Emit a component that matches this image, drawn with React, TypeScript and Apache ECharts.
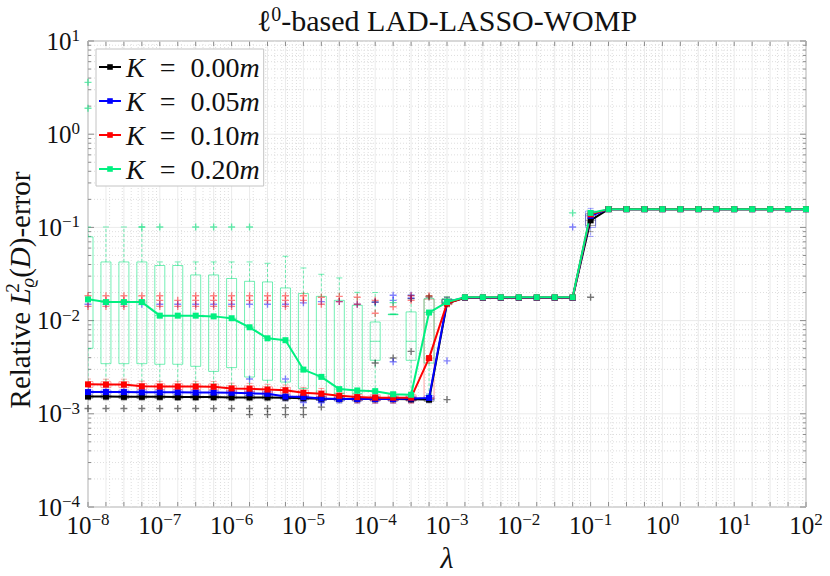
import React, { useEffect, useRef } from 'react';
import * as echarts from 'echarts';

const SERIF = 'Liberation Serif';

// lambda grid (log10 of lambda)
const LOG_LAMBDA = [
  -8, -7.75, -7.5, -7.25, -7, -6.75, -6.5, -6.25, -6, -5.75, -5.5, -5.25, -5, -4.75, -4.5, -4.25,
  -4, -3.75, -3.5, -3.25, -3, -2.75, -2.5, -2.25, -2, -1.75, -1.5, -1.25, -1, -0.75, -0.5, -0.25,
  0, 0.25, 0.5, 0.75, 1, 1.25, 1.5, 1.75, 2,
];
const LAMBDA = LOG_LAMBDA.map((e) => Math.pow(10, e));

const K_LABELS = ['0.00', '0.05', '0.10', '0.20'];
const COLORS = ['#000000', '#0000ff', '#ff0000', '#00f080'];
const BOX_COLORS = ['rgba(0,0,0,0.35)', 'rgba(0,0,255,0.35)', 'rgba(255,0,0,0.35)', 'rgba(0,225,120,0.55)'];
const OUT_COLORS = ['rgba(0,0,0,0.65)', 'rgba(0,0,255,0.6)', 'rgba(255,0,0,0.6)', 'rgba(0,225,120,0.75)'];

const ERR_K000 = [
  0.00153, 0.00153, 0.00152, 0.00152, 0.00152, 0.00151, 0.00151, 0.00151, 0.0015, 0.0015, 0.0015,
  0.00149, 0.00147, 0.00145, 0.00144, 0.00144, 0.00144, 0.00144, 0.00143, 0.00142, 0.0153,
  0.0176, 0.0176, 0.0176, 0.0176, 0.0176, 0.0176, 0.0176, 0.119,
  0.157, 0.157, 0.157, 0.157, 0.157, 0.157, 0.157, 0.157, 0.157, 0.157, 0.157, 0.157,
];
const ERR_K005 = [
  0.00171, 0.00171, 0.00171, 0.0017, 0.0017, 0.0017, 0.00169, 0.00169, 0.00168, 0.00166, 0.00164,
  0.00153, 0.00151, 0.00146, 0.00144, 0.00144, 0.00144, 0.00144, 0.00146, 0.00148, 0.0158,
  0.0176, 0.0176, 0.0176, 0.0176, 0.0176, 0.0176, 0.0176, 0.133,
  0.157, 0.157, 0.157, 0.157, 0.157, 0.157, 0.157, 0.157, 0.157, 0.157, 0.157, 0.157,
];
const ERR_K010 = [
  0.00207, 0.00206, 0.00206, 0.00197, 0.00196, 0.00196, 0.00196, 0.00195, 0.00187, 0.00186, 0.00182,
  0.00179, 0.00168, 0.00164, 0.00156, 0.00151, 0.00149, 0.00149, 0.00149, 0.00396, 0.0153,
  0.0177, 0.0177, 0.0177, 0.0177, 0.0177, 0.0177, 0.0177, 0.138,
  0.157, 0.157, 0.157, 0.157, 0.157, 0.157, 0.157, 0.157, 0.157, 0.157, 0.157, 0.157,
];
const ERR_K020 = [
  0.0169, 0.0158, 0.0158, 0.0158, 0.0113, 0.0113, 0.0113, 0.0111, 0.0106, 0.00848, 0.00646,
  0.00616, 0.00298, 0.00249, 0.00184, 0.00178, 0.00175, 0.00162, 0.0016, 0.0122, 0.0158,
  0.0178, 0.0178, 0.0178, 0.0178, 0.0178, 0.0178, 0.0178, 0.143,
  0.157, 0.157, 0.157, 0.157, 0.157, 0.157, 0.157, 0.157, 0.157, 0.157, 0.157, 0.157,
];

// box statistics: [lambda index, min, Q1, median, Q3, max]
const BOX_K000 = [
  [0, 0.00141, 0.00147, 0.00153, 0.00159, 0.00166], [1, 0.00141, 0.00147, 0.00153, 0.00159, 0.00166],
  [2, 0.0014, 0.00146, 0.00152, 0.00158, 0.00165], [3, 0.0014, 0.00146, 0.00152, 0.00158, 0.00165],
  [4, 0.0014, 0.00146, 0.00152, 0.00158, 0.00165], [5, 0.00139, 0.00145, 0.00151, 0.00157, 0.00164],
  [6, 0.00139, 0.00145, 0.00151, 0.00157, 0.00164], [7, 0.00139, 0.00145, 0.00151, 0.00157, 0.00164],
  [8, 0.00138, 0.00144, 0.0015, 0.00156, 0.00163], [9, 0.00138, 0.00144, 0.0015, 0.00156, 0.00163],
  [10, 0.00138, 0.00144, 0.0015, 0.00156, 0.00163], [11, 0.00137, 0.00143, 0.00149, 0.00155, 0.00162],
  [12, 0.00135, 0.00141, 0.00147, 0.00153, 0.0016], [13, 0.00133, 0.00139, 0.00145, 0.00151, 0.00158],
  [14, 0.00132, 0.00138, 0.00144, 0.0015, 0.00157], [15, 0.00132, 0.00138, 0.00144, 0.0015, 0.00157],
  [16, 0.00132, 0.00138, 0.00144, 0.0015, 0.00157], [17, 0.00132, 0.00138, 0.00144, 0.0015, 0.00157],
  [18, 0.00132, 0.00137, 0.00143, 0.00149, 0.00155], [19, 0.00131, 0.00136, 0.00142, 0.00148, 0.00154],
  [20, 0.0146, 0.015, 0.0153, 0.0168, 0.0176], [28, 0.09, 0.105, 0.119, 0.14, 0.15],
];
const BOX_K005 = [
  [0, 0.00154, 0.00163, 0.00171, 0.0018, 0.0019], [1, 0.00154, 0.00163, 0.00171, 0.0018, 0.0019],
  [2, 0.00154, 0.00163, 0.00171, 0.0018, 0.0019], [3, 0.00153, 0.00162, 0.0017, 0.00179, 0.00189],
  [4, 0.00153, 0.00162, 0.0017, 0.00179, 0.00189], [5, 0.00153, 0.00162, 0.0017, 0.00179, 0.00189],
  [6, 0.00152, 0.00161, 0.00169, 0.00178, 0.00188], [7, 0.00152, 0.00161, 0.00169, 0.00178, 0.00188],
  [8, 0.00151, 0.0016, 0.00168, 0.00177, 0.00186], [9, 0.00149, 0.00158, 0.00166, 0.00175, 0.00184],
  [10, 0.00148, 0.00156, 0.00164, 0.00173, 0.00182], [11, 0.00138, 0.00146, 0.00153, 0.00161, 0.0017],
  [12, 0.00136, 0.00144, 0.00151, 0.00159, 0.00168], [13, 0.00131, 0.00139, 0.00146, 0.00154, 0.00162],
  [14, 0.0013, 0.00137, 0.00144, 0.00152, 0.0016], [15, 0.0013, 0.00137, 0.00144, 0.00152, 0.0016],
  [16, 0.0013, 0.00137, 0.00144, 0.00152, 0.0016], [17, 0.0013, 0.00137, 0.00144, 0.00152, 0.0016],
  [18, 0.00131, 0.00139, 0.00146, 0.00154, 0.00162], [19, 0.00133, 0.00141, 0.00148, 0.00156, 0.00164],
  [20, 0.015, 0.0154, 0.0158, 0.0168, 0.0178], [28, 0.08, 0.1, 0.133, 0.15, 0.16],
];
const BOX_K010 = [
  [0, 0.0018, 0.00192, 0.00207, 0.00222, 0.00236], [1, 0.00179, 0.00191, 0.00206, 0.00221, 0.00235],
  [2, 0.00179, 0.00191, 0.00206, 0.00221, 0.00235], [3, 0.00171, 0.00183, 0.00197, 0.00211, 0.00224],
  [4, 0.0017, 0.00182, 0.00196, 0.0021, 0.00223], [5, 0.0017, 0.00182, 0.00196, 0.0021, 0.00223],
  [6, 0.0017, 0.00182, 0.00196, 0.0021, 0.00223], [7, 0.0017, 0.00181, 0.00195, 0.00209, 0.00222],
  [8, 0.00163, 0.00174, 0.00187, 0.002, 0.00213], [9, 0.00162, 0.00173, 0.00186, 0.00199, 0.00212],
  [10, 0.00158, 0.00169, 0.00182, 0.00195, 0.00207], [11, 0.00156, 0.00166, 0.00179, 0.00192, 0.00204],
  [12, 0.00146, 0.00156, 0.00168, 0.0018, 0.00192], [13, 0.00143, 0.00152, 0.00164, 0.00176, 0.00187],
  [14, 0.00136, 0.00145, 0.00156, 0.00167, 0.00178], [15, 0.00131, 0.0014, 0.00151, 0.00162, 0.00172],
  [16, 0.0013, 0.00139, 0.00149, 0.0016, 0.0017], [17, 0.0013, 0.00139, 0.00149, 0.0016, 0.0017],
  [18, 0.0013, 0.00139, 0.00149, 0.0016, 0.0017], [19, 0.0014, 0.00146, 0.00396, 0.017, 0.0185],
  [20, 0.014, 0.0148, 0.0153, 0.017, 0.018],
];
const BOX_K020 = [
  [0, 0.0016, 0.00505, 0.0169, 0.0791, 0.101], [1, 0.0016, 0.00345, 0.0158, 0.0426, 0.101],
  [2, 0.0016, 0.00345, 0.0158, 0.0426, 0.101], [3, 0.0016, 0.00345, 0.0158, 0.0426, 0.101],
  [4, 0.0016, 0.0034, 0.0113, 0.039, 0.0426], [5, 0.0016, 0.0034, 0.0113, 0.039, 0.0426],
  [6, 0.0016, 0.00323, 0.0113, 0.0309, 0.0426], [7, 0.0016, 0.00285, 0.0111, 0.0309, 0.0426],
  [8, 0.0016, 0.00313, 0.0106, 0.0283, 0.0426], [9, 0.0016, 0.00248, 0.00848, 0.0264, 0.0426],
  [10, 0.0016, 0.00229, 0.00646, 0.026, 0.0412], [11, 0.0016, 0.00219, 0.00616, 0.0224, 0.049],
  [12, 0.0015, 0.00187, 0.00298, 0.0195, 0.0367], [13, 0.0015, 0.00166, 0.00249, 0.0182, 0.0314],
  [14, 0.0015, 0.00165, 0.00184, 0.0165, 0.0287], [15, 0.0015, 0.00165, 0.00178, 0.0146, 0.0201],
  [16, 0.0015, 0.00375, 0.006, 0.00966, 0.02], [17, 0.0117, 0.0117, 0.0117, 0.0117, 0.0117],
  [18, 0.0015, 0.00375, 0.006, 0.0124, 0.0187], [19, 0.0016, 0.0035, 0.0122, 0.0172, 0.0185],
  [20, 0.0155, 0.0156, 0.0158, 0.0172, 0.018],
];

// outliers: [lambda index, value]
const OUT_K000 = [
  [0, 0.00114], [1, 0.00114], [2, 0.00114], [3, 0.00114], [4, 0.00114], [5, 0.00114], [6, 0.00114],
  [7, 0.00114], [8, 0.00114], [9, 0.00114], [9, 0.00098], [10, 0.00114], [10, 0.00098], [11, 0.00098],
  [11, 0.00116], [12, 0.00098], [12, 0.00116], [13, 0.00118], [16, 0.00351], [17, 0.00397],
  [18, 0.00467], [16, 0.0158], [18, 0.0172], [19, 0.0179], [20, 0.00142], [28, 0.0178],
];
const OUT_K005 = [
  [0, 0.015], [1, 0.015], [2, 0.015], [3, 0.015], [4, 0.015], [5, 0.015], [6, 0.015], [7, 0.015],
  [8, 0.015], [9, 0.015], [10, 0.015], [11, 0.015], [12, 0.0155], [13, 0.016], [14, 0.016],
  [15, 0.015], [16, 0.0158], [17, 0.0187], [17, 0.0165], [18, 0.0187], [18, 0.0175], [9, 0.00236],
  [11, 0.00236], [12, 0.00132], [13, 0.00132], [17, 0.00362], [20, 0.0037], [27, 0.101],
];
const OUT_K010 = [
  [0, 0.0185], [0, 0.0142], [1, 0.0185], [1, 0.0165], [1, 0.0142], [2, 0.0185], [2, 0.0165],
  [2, 0.0142], [3, 0.0185], [3, 0.0165], [4, 0.0185], [4, 0.0165], [4, 0.0142], [5, 0.0165],
  [5, 0.0142], [6, 0.0185], [6, 0.0165], [6, 0.0142], [7, 0.0185], [7, 0.0165], [7, 0.0142],
  [8, 0.0185], [8, 0.0165], [8, 0.0142], [9, 0.0185], [9, 0.0165], [10, 0.0185], [10, 0.0165],
  [11, 0.0185], [11, 0.0165], [11, 0.0142], [12, 0.0185], [12, 0.0165], [13, 0.0178], [13, 0.015],
  [14, 0.0182], [14, 0.016], [15, 0.0178], [15, 0.015], [16, 0.0165], [16, 0.012], [17, 0.0141],
  [18, 0.0185], [18, 0.0165], [19, 0.0185], [19, 0.00375],
];
const OUT_K020 = [
  [0, 3.6], [0, 1.9], [3, 0.101], [4, 0.101], [6, 0.101], [7, 0.101], [8, 0.101], [9, 0.101],
  [17, 0.0156], [27, 0.143],
];

// grid / tick values
const X_DECADES = [1e-8, 1e-7, 1e-6, 1e-5, 1e-4, 1e-3, 1e-2, 1e-1, 1, 10];
const Y_DECADES = [1e-4, 1e-3, 1e-2, 1e-1, 1, 10];
const MINOR_MULT = [2, 3, 4, 5, 6, 7, 8, 9];

const AXIS_GRAY = '#8c8c8c';
const TEXT = '#111111';

const supLabel = (v: number) => {
  const e = Math.round(Math.log10(v));
  const s = e < 0 ? '\u2212' + String(-e) : String(e);
  return `{b|10}{s|${s}}`;
};
const labelRich = {
  b: { fontFamily: SERIF, fontSize: 25, lineHeight: 28, color: TEXT },
  s: { fontFamily: SERIF, fontSize: 17, lineHeight: 17, verticalAlign: 'top', color: TEXT },
};

const PLUS = 'path://M4,0H6V4H10V6H6V10H4V6H0V4H4Z';

const renderFrame = (params: any, api: any) => {
  const cs = params.coordSys;
  const left = cs.x, top = cs.y, right = cs.x + cs.width, bottom = cs.y + cs.height;
  const px = (v: number) => api.coord([v, 1])[0];
  const py = (v: number) => api.coord([1, v])[1];
  const ch: any[] = [];
  const dotted = { stroke: '#dedede', lineWidth: 1, lineDash: [1, 2] };
  const solid = { stroke: '#ebebeb', lineWidth: 1 };
  const tick = { stroke: AXIS_GRAY, lineWidth: 1 };
  X_DECADES.forEach((d) => MINOR_MULT.forEach((m) => {
    const x = px(d * m);
    ch.push({ type: 'line', shape: { x1: x, y1: top, x2: x, y2: bottom }, style: dotted });
  }));
  Y_DECADES.slice(0, -1).forEach((d) => MINOR_MULT.forEach((m) => {
    const y = py(d * m);
    ch.push({ type: 'line', shape: { x1: left, y1: y, x2: right, y2: y }, style: dotted });
  }));
  LAMBDA.forEach((v) => {
    const x = px(v);
    ch.push({ type: 'line', shape: { x1: x, y1: top, x2: x, y2: bottom }, style: solid });
    ch.push({ type: 'line', shape: { x1: x, y1: bottom, x2: x, y2: bottom - 5 }, style: tick });
    ch.push({ type: 'line', shape: { x1: x, y1: top, x2: x, y2: top + 5 }, style: tick });
  });
  Y_DECADES.forEach((v) => {
    const y = py(v);
    ch.push({ type: 'line', shape: { x1: left, y1: y, x2: right, y2: y }, style: solid });
    ch.push({ type: 'line', shape: { x1: left, y1: y, x2: left + 6, y2: y }, style: tick });
    ch.push({ type: 'line', shape: { x1: right, y1: y, x2: right - 6, y2: y }, style: tick });
  });
  Y_DECADES.slice(0, -1).forEach((d) => MINOR_MULT.forEach((m) => {
    const y = py(d * m);
    ch.push({ type: 'line', shape: { x1: left, y1: y, x2: left + 3, y2: y }, style: tick });
    ch.push({ type: 'line', shape: { x1: right, y1: y, x2: right - 3, y2: y }, style: tick });
  }));
  return { type: 'group', children: ch };
};

const makeBoxRender = (color: string) => (params: any, api: any) => {
  const xv = api.value(0);
  const c = (v: number) => api.coord([xv, v]);
  const pMin = c(api.value(1));
  const pQ1 = c(api.value(2));
  const pMed = c(api.value(3));
  const pQ3 = c(api.value(4));
  const pMax = c(api.value(5));
  const cx = pMin[0];
  const hw = 5;
  const cw = 3;
  const st = { stroke: color, lineWidth: 1, fill: 'none' };
  const dash = { stroke: color, lineWidth: 1, lineDash: [3, 2] };
  return {
    type: 'group',
    children: [
      { type: 'line', shape: { x1: cx, y1: pQ3[1], x2: cx, y2: pMax[1] }, style: dash },
      { type: 'line', shape: { x1: cx, y1: pQ1[1], x2: cx, y2: pMin[1] }, style: dash },
      { type: 'line', shape: { x1: cx - cw, y1: pMax[1], x2: cx + cw, y2: pMax[1] }, style: st },
      { type: 'line', shape: { x1: cx - cw, y1: pMin[1], x2: cx + cw, y2: pMin[1] }, style: st },
      { type: 'rect', shape: { x: cx - hw, y: pQ3[1], width: 2 * hw, height: Math.max(pQ1[1] - pQ3[1], 0.5) }, style: st },
      { type: 'line', shape: { x1: cx - hw, y1: pMed[1], x2: cx + hw, y2: pMed[1] }, style: st },
    ],
  };
};

const ERRS = [ERR_K000, ERR_K005, ERR_K010, ERR_K020];
const BOXES = [BOX_K000, BOX_K005, BOX_K010, BOX_K020];
const OUTS = [OUT_K000, OUT_K005, OUT_K010, OUT_K020];
const seriesName = (k: string) => `K = ${k}m`;

function buildOption() {
  const series: any[] = [];
  series.push({
    type: 'custom', name: 'frame', silent: true, z: 0, clip: false,
    data: [[1, 1]], encode: { x: 0, y: 1 }, renderItem: renderFrame,
  });
  BOXES.forEach((rows, si) => {
    series.push({
      type: 'custom', name: 'box' + si, silent: true, z: 1, clip: true,
      data: rows.map((r) => [LAMBDA[r[0]], r[1], r[2], r[3], r[4], r[5]]),
      encode: { x: 0, y: [1, 2, 3, 4, 5] },
      renderItem: makeBoxRender(BOX_COLORS[si]),
    });
  });
  OUTS.forEach((rows, si) => {
    series.push({
      type: 'scatter', name: 'out' + si, silent: true, z: 2,
      symbol: PLUS, symbolSize: 7,
      itemStyle: { color: OUT_COLORS[si] },
      data: rows.map((r) => [LAMBDA[r[0]], r[1]]),
    });
  });
  ERRS.forEach((vals, si) => {
    series.push({
      type: 'line', name: seriesName(K_LABELS[si]), z: 3,
      symbol: 'rect', symbolSize: 6, showSymbol: true,
      color: COLORS[si],
      lineStyle: { width: 2, color: COLORS[si] },
      itemStyle: { color: COLORS[si] },
      emphasis: { disabled: true },
      data: vals.map((v, i) => [LAMBDA[i], v]),
    });
  });

  return {
    animation: false,
    backgroundColor: '#ffffff',
    textStyle: { fontFamily: SERIF },
    grid: { left: 88, right: 24, top: 41, bottom: 69, show: true, borderColor: AXIS_GRAY, borderWidth: 1 },
    xAxis: {
      type: 'log', logBase: 10, min: 1e-8, max: 1e2, interval: 1, splitNumber: 10,
      axisLine: { show: false }, axisTick: { show: false }, splitLine: { show: false },
      axisLabel: { formatter: supLabel, rich: labelRich, margin: 4, fontFamily: SERIF, showMinLabel: true, showMaxLabel: true },
    },
    yAxis: {
      type: 'log', logBase: 10, min: 1e-4, max: 1e1, interval: 1, splitNumber: 5,
      axisLine: { show: false }, axisTick: { show: false }, splitLine: { show: false },
      axisLabel: { formatter: supLabel, rich: labelRich, margin: 8, fontFamily: SERIF, showMinLabel: true, showMaxLabel: true },
    },
    legend: {
      data: K_LABELS.map(seriesName),
      orient: 'vertical', left: 96, top: 49,
      padding: [4, 4, 3, 2], itemGap: 6, itemWidth: 22, itemHeight: 7,
      backgroundColor: '#ffffff', borderColor: '#c4c4c4', borderWidth: 1, borderRadius: 0,
      z: 10, selectedMode: false,
      formatter: (name: string) => `{i|K}{g| }={g| }${name.slice(4, -1)}{i|m}`,
      textStyle: {
        fontFamily: SERIF, fontSize: 28, lineHeight: 28, color: TEXT,
        rich: {
          i: { fontFamily: SERIF, fontSize: 28, fontStyle: 'italic', lineHeight: 28, color: TEXT },
          g: { fontFamily: SERIF, fontSize: 28, width: 15, lineHeight: 28 },
        },
      },
    },
    graphic: [
      {
        type: 'text', x: 447, y: 20, silent: true,
        style: {
          text: '{l|\u2113}{s|0}-based LAD-LASSO-WOMP',
          fontFamily: SERIF, fontSize: 30, fill: TEXT, align: 'center', verticalAlign: 'middle',
          rich: {
            l: { fontFamily: SERIF, fontSize: 30, lineHeight: 32 },
            s: { fontFamily: SERIF, fontSize: 20, lineHeight: 20, verticalAlign: 'top' },
          },
        },
      },
      {
        type: 'text', x: 447, y: 557, silent: true,
        style: {
          text: '\u03bb', fontFamily: SERIF, fontSize: 30, fontStyle: 'italic', fill: TEXT,
          align: 'center', verticalAlign: 'middle',
        },
      },
      {
        type: 'text', x: 20, y: 290, rotation: Math.PI / 2, silent: true,
        style: {
          text: 'Relative {it|L}{sup|2}{sub|\u03f1}({it|D})-error',
          fontFamily: SERIF, fontSize: 29, fill: TEXT, align: 'center', verticalAlign: 'middle',
          rich: {
            it: { fontFamily: SERIF, fontSize: 29, fontStyle: 'italic', lineHeight: 34 },
            sup: { fontFamily: SERIF, fontSize: 19, lineHeight: 19, verticalAlign: 'top', width: 1, align: 'left' },
            sub: { fontFamily: SERIF, fontSize: 19, fontStyle: 'italic', lineHeight: 19, verticalAlign: 'bottom' },
          },
        },
      },
    ],
    series,
  };
}

export default function App() {
  const ref = useRef<HTMLDivElement>(null);
  useEffect(() => {
    if (!ref.current) return;
    const chart = echarts.init(ref.current, undefined, { renderer: 'svg' });
    chart.setOption(buildOption() as any);
    return () => chart.dispose();
  }, []);
  return (
    <div
      ref={ref}
      style={{ position: 'fixed', left: 0, top: 0, width: 830, height: 576, background: '#ffffff' }}
    />
  );
}
